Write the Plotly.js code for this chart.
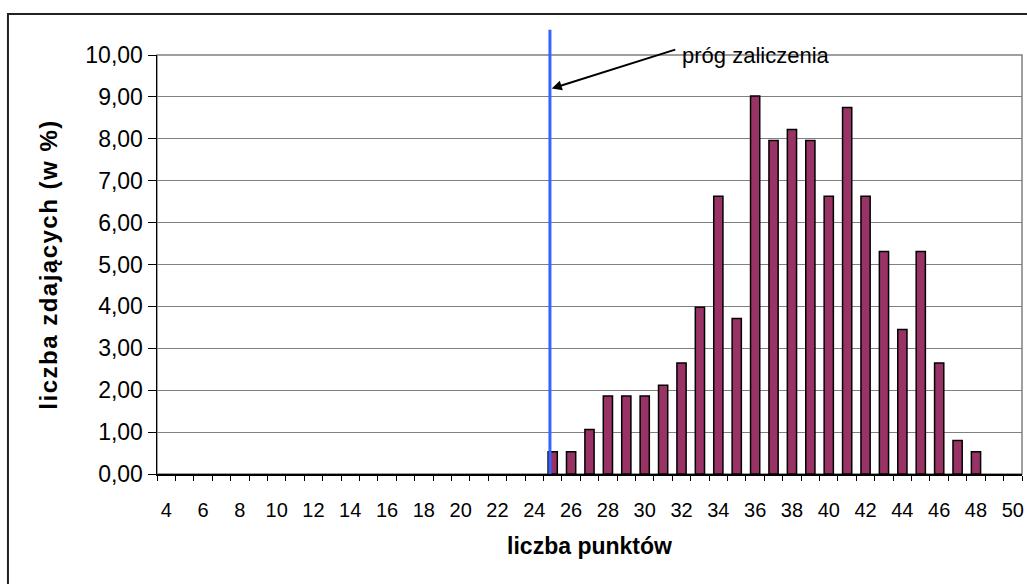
<!DOCTYPE html>
<html>
<head>
<meta charset="utf-8">
<script src="https://cdn.plot.ly/plotly-3.0.1.min.js"></script>
<style>
html,body{margin:0;padding:0;background:#fff;}
#chart{width:1027px;height:584px;}
#chart .ytitle{letter-spacing:1.5px;}
</style>
</head>
<body>
<div id="chart"></div>
<script>
// Categories: number of points (liczba punktów)
const points = [];
for (let p = 4; p <= 50; p++) points.push(p);
// Percentage of test takers (liczba zdających w %) for each score 4..50
const percent = [
  0, 0, 0, 0, 0, 0, 0, 0, 0, 0,          // 4-13
  0, 0, 0, 0, 0, 0, 0, 0, 0, 0, 0,       // 14-24
  0.53, 0.53, 1.06, 1.86, 1.86, 1.86, 2.12, 2.65, 3.98, 6.63, // 25-34
  3.71, 9.02, 7.96, 8.22, 7.96, 6.63, 8.75, 6.63, 5.31, 3.45, // 35-44
  5.31, 2.65, 0.80, 0.53, 0, 0            // 45-50
];
const xTickVals = [4,6,8,10,12,14,16,18,20,22,24,26,28,30,32,34,36,38,40,42,44,46,48,50];
const xTickText = xTickVals.map(String);
const yTickVals = [0,1,2,3,4,5,6,7,8,9,10];
const thresholdX = 24.85;       // pass threshold line position
const thresholdLabel = 'próg zaliczenia';

const font = 'Liberation Sans, Arial, sans-serif';

const bars = {
  type: 'bar',
  x: points,
  y: percent,
  width: 0.5,
  marker: {color: '#993366', line: {color: '#000000', width: percent.map(v => v > 0 ? 1.5 : 0)}},
  hoverinfo: 'x+y'
};

const layout = {
  width: 1027, height: 584,
  margin: {l: 157, r: 5, t: 55, b: 110},
  paper_bgcolor: '#ffffff',
  plot_bgcolor: '#ffffff',
  showlegend: false,
  separators: ',.',
  font: {family: font, color: '#000', size: 20},
  xaxis: {
    range: [3.5, 50.5],
    tickmode: 'array', tickvals: xTickVals, ticktext: xTickText,
    ticks: 'outside', ticklen: 5, tickcolor: 'rgba(0,0,0,0)', ticklabelstandoff: 12,
    tickfont: {family: font, size: 20, color: '#000'},
    showgrid: false, zeroline: false,
    showline: true, linecolor: '#000', linewidth: 1.5,
    minor: {ticks: 'outside', tick0: 3.5, dtick: 1, ticklen: 5, tickcolor: '#000', tickwidth: 1, showgrid: false},
    title: {text: 'liczba punktów', font: {family: font, size: 23, color: '#000', weight: 'bold'}, standoff: 18},
    fixedrange: true
  },
  yaxis: {
    range: [0, 10],
    tickmode: 'array', tickvals: yTickVals, tickformat: '.2f',
    ticks: 'outside', ticklen: 8, tickcolor: '#000', tickwidth: 1,
    tickfont: {family: font, size: 23, color: '#000'},
    showgrid: true, gridcolor: '#808080', gridwidth: 1,
    zeroline: false,
    showline: true, linecolor: '#000', linewidth: 1.5,
    title: {text: 'liczba zdających (w %)', font: {family: font, size: 24, color: '#000', weight: 'bold'}, standoff: 21},
    fixedrange: true
  },
  shapes: [
    // outer chart frame
    {type: 'rect', xref: 'paper', yref: 'paper', x0: -0.1723, x1: 1.05, y0: -0.4, y1: 1.098,
     line: {color: '#222', width: 2}, fillcolor: 'rgba(0,0,0,0)', layer: 'below'},
    // plot area border (top/right gray)
    {type: 'rect', xref: 'paper', yref: 'paper', x0: 0, x1: 1, y0: 0, y1: 1,
     line: {color: '#808080', width: 1.5}, fillcolor: 'rgba(0,0,0,0)', layer: 'below'},
    // threshold line
    {type: 'line', xref: 'x', yref: 'paper', x0: thresholdX, x1: thresholdX, y0: 0, y1: 1.06,
     line: {color: '#3366FF', width: 3}, layer: 'above'}
  ],
  annotations: [
    {xref: 'x', yref: 'y', x: thresholdX + 0.1, y: 9.2,
     axref: 'x', ayref: 'y', ax: 31.74, ay: 10.14,
     text: '', showarrow: true, arrowhead: 2, arrowsize: 1, arrowwidth: 2, arrowcolor: '#000'},
    {xref: 'x', yref: 'y', x: 31.9, y: 10.0, xanchor: 'left', yanchor: 'middle',
     text: thresholdLabel, showarrow: false, font: {family: font, size: 22, color: '#000'}}
  ]
};

Plotly.newPlot('chart', [bars], layout, {displayModeBar: false, staticPlot: true});
</script>
</body>
</html>
